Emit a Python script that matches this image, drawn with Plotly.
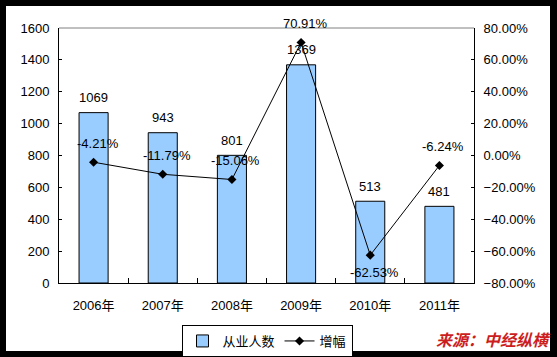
import plotly.graph_objects as go

years = ["2006年", "2007年", "2008年", "2009年", "2010年", "2011年"]
employees = [1069, 943, 801, 1369, 513, 481]
growth = [-0.0421, -0.1179, -0.1506, 0.7091, -0.6253, -0.0624]
growth_labels = ["-4.21%", "-11.79%", "-15.06%", "70.91%", "-62.53%", "-6.24%"]
label_below = [False, False, False, False, True, False]

FONT = "Liberation Sans, Arial, Noto Sans CJK SC, sans-serif"

# plot area pixels: x 59..474, y 28..283
L, R, T, B = 59, 474, 28, 283
W, H = R - L, B - T
def px(x): return (x - L) / W
def py(y): return (B - y) / H

fig = go.Figure()
fig.add_trace(go.Bar(
    x=years, y=employees, name="从业人数",
    marker=dict(color="#99CCFF", line=dict(color="black", width=1)),
    yaxis="y",
))
fig.add_trace(go.Scatter(
    x=years, y=growth, name="增幅", mode="lines+markers",
    line=dict(color="black", width=1),
    marker=dict(symbol="diamond", size=7, color="black"),
    yaxis="y2",
))

ann = []
for xv, v in zip(years, employees):
    ann.append(dict(x=xv, y=v, xref="x", yref="y", text=str(v), showarrow=False,
                    yshift=15, font=dict(size=13, color="black", family=FONT)))
for xv, v, t, below in zip(years, growth, growth_labels, label_below):
    ann.append(dict(x=xv, y=v, xref="x", yref="y2", text=t, showarrow=False,
                    xshift=4, yshift=-17 if below else 19,
                    font=dict(size=13, color="black", family=FONT)))
ann.append(dict(x=px(553), y=py(353), xref="paper", yref="paper", xanchor="right", yanchor="bottom",
                text="<b><i>来源：中经纵横</i></b>", showarrow=False,
                font=dict(size=16, color="#CC1E1E", family="Noto Sans CJK SC, sans-serif")))

shapes = [
    dict(type="rect", xref="paper", yref="paper", x0=px(6), x1=px(550), y0=py(351), y1=py(6),
         fillcolor="white", line=dict(width=0), layer="below"),
    dict(type="line", xref="paper", yref="paper", x0=0, x1=1, y0=1, y1=1,
         line=dict(color="#808080", width=1)),
]

fig.update_layout(
    width=557, height=357,
    margin=dict(l=L, r=557 - R, t=T, b=357 - B, pad=0, autoexpand=False),
    paper_bgcolor="black", plot_bgcolor="white",
    font=dict(family=FONT, size=13, color="black"),
    bargap=0.58,
    showlegend=True,
    legend=dict(orientation="h", x=px(267), xanchor="center", y=py(325), yanchor="top",
                bordercolor="black", borderwidth=1, bgcolor="white",
                font=dict(size=13, family="Noto Sans CJK SC, sans-serif"),
                itemwidth=30, tracegroupgap=0),
    xaxis=dict(type="category", showline=True, linecolor="black", linewidth=1,
               ticks="inside", ticklen=5, tickcolor="black", tickson="boundaries",
               showgrid=False, zeroline=False, ticklabelstandoff=10, automargin=False,
               tickfont=dict(size=13)),
    yaxis=dict(range=[0, 1600], dtick=200, showline=True, linecolor="black", linewidth=1,
               ticks="inside", ticklen=3, tickcolor="black", showgrid=False, zeroline=False,
               ticklabelstandoff=6, automargin=False, tickfont=dict(size=13)),
    yaxis2=dict(range=[-0.8, 0.8], dtick=0.2, tickformat=".2%", overlaying="y", side="right",
                showline=True, linecolor="black", linewidth=1, ticks="inside", ticklen=3,
                tickcolor="black", showgrid=False, zeroline=False, ticklabelstandoff=6,
                automargin=False, tickfont=dict(size=13)),
    annotations=ann,
    shapes=shapes,
)

fig.write_html("out.html", config={"displayModeBar": False},
               post_script="document.body.style.margin='0';document.body.style.overflow='hidden';")
